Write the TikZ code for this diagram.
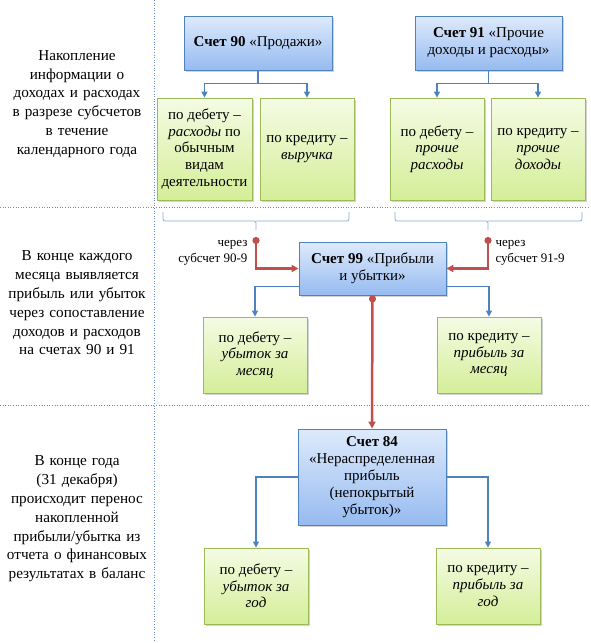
\documentclass[tikz,border=0pt]{standalone}
\usepackage{fontspec}
\setmainfont{Liberation Serif}
\usetikzlibrary{arrows.meta,shadows,calc}
\definecolor{bluebd}{RGB}{79,129,189}
\definecolor{bluetop}{RGB}{222,234,252}
\definecolor{bluebot}{RGB}{150,187,240}
\definecolor{greenbd}{RGB}{155,187,89}
\definecolor{greentop}{RGB}{245,251,228}
\definecolor{greenbot}{RGB}{212,238,152}
\definecolor{redln}{RGB}{192,80,77}
\definecolor{bracec}{RGB}{140,170,210}
\definecolor{sepc}{RGB}{100,140,200}
\tikzset{
  bluebox/.style={draw=bluebd, line width=0.8pt, top color=bluetop, bottom color=bluebot,
    drop shadow={shadow xshift=1.5pt, shadow yshift=-1.5pt, opacity=0.35},
    align=center, inner sep=2pt, font=\fontsize{15}{17}\selectfont},
  greenbox/.style={draw=greenbd, line width=0.8pt, top color=greentop, bottom color=greenbot,
    drop shadow={shadow xshift=1.5pt, shadow yshift=-1.5pt, opacity=0.35},
    align=center, inner sep=2pt, font=\fontsize{15}{16.6}\selectfont},
  sidetext/.style={align=center, text width=152pt, font=\fontsize{15.2}{18.8}\selectfont},
  viatext/.style={font=\fontsize{13}{16}\selectfont},
  bluearrow/.style={draw=bluebd, line width=1.2pt, -{Triangle[length=6pt,width=6pt]}},
  redarrow/.style={draw=redln, line width=2.5pt, {Circle[length=7pt]}-{Triangle[length=7pt,width=7pt]}},
  bracestyle/.style={draw=bracec, line width=0.8pt, rounded corners=2pt},
  sepline/.style={draw=sepc, line width=0.6pt, dotted},
}
\begin{document}
\begin{tikzpicture}[x=1pt,y=-1pt]
\useasboundingbox (0,0) rectangle (590,643);
% separators
\draw[sepline] (154,0) -- (154,640);
\draw[sepline] (0,207) -- (590,207);
\draw[sepline] (0,405) -- (590,405);
% side texts
\node[sidetext] (t1) at (77,104) {Накопление\\информации о\\доходах и расходах\\в разрезе субсчетов\\в течение\\календарного года};
\node[sidetext] (t2) at (77,303) {В конце каждого\\месяца выявляется\\прибыль или убыток\\через сопоставление\\доходов и расходов\\на счетах 90 и 91};
\node[sidetext] (t3) at (77,519) {В конце года\\(31 декабря)\\происходит перенос\\накопленной\\прибыли/убытка из\\отчета о финансовых\\результатах в баланс};
% top boxes
\node[bluebox, minimum width=148pt, minimum height=54pt] (b90) at (258,43) {\textbf{Счет 90} «Продажи»};
\node[bluebox, minimum width=147pt, minimum height=54pt] (b91) at (488.5,43) {\textbf{Счет 91} «Прочие\\доходы и расходы»};
\node[greenbox, minimum width=95pt, minimum height=102pt] (g1) at (204.5,149) {по дебету –\\\textit{расходы} по\\обычным\\видам\\деятельности};
\node[greenbox, minimum width=94pt, minimum height=102pt] (g2) at (307,149) {по кредиту –\\\textit{выручка}};
\node[greenbox, minimum width=94pt, minimum height=102pt] (g3) at (437,149) {по дебету –\\\textit{прочие}\\\textit{расходы}};
\node[greenbox, minimum width=94pt, minimum height=102pt] (g4) at (538,149) {по кредиту –\\\textit{прочие}\\\textit{доходы}};
\draw[bluearrow] (b90.south) -- ++(0,13) -| (g1.north);
\draw[bluearrow] (b90.south) -- ++(0,13) -| (g2.north);
\draw[bluearrow] (b91.south) -- ++(0,13) -| (g3.north);
\draw[bluearrow] (b91.south) -- ++(0,13) -| (g4.north);
% braces
\coordinate (br1) at (256,230);
\coordinate (br2) at (488,230);
\draw[bracestyle] (163,212) -- (163,221) -- (256,221) -- (br1);
\draw[bracestyle] (349,212) -- (349,221) -- (256,221);
\draw[bracestyle] (395,212) -- (395,221) -- (488,221) -- (br2);
\draw[bracestyle] (582,212) -- (582,221) -- (488,221);
% account 99
\node[bluebox, minimum width=147pt, minimum height=53pt] (b99) at (372.5,268.5) {\textbf{Счет 99} «Прибыли\\и убытки»};
\coordinate (r1) at (256,237);
\coordinate (r2) at (488,237);
\draw[redarrow] (r1) |- (b99.west);
\draw[redarrow] (r2) |- (b99.east);
\node[viatext, anchor=east, align=right] (v1) at (251,253) {через\\субсчет 90-9};
\node[viatext, anchor=west, align=left] (v2) at (492,253) {через\\субсчет 91-9};
\node[greenbox, minimum width=104pt, minimum height=76pt] (g5) at (255,355) {по дебету –\\\textit{убыток за}\\\textit{месяц}};
\node[greenbox, minimum width=104pt, minimum height=76pt] (g6) at (489,355) {по кредиту –\\\textit{прибыль за}\\\textit{месяц}};
\draw[bluearrow] ([yshift=9pt]b99.south west) -| (g5.north);
\draw[bluearrow] ([yshift=9pt]b99.south east) -| (g6.north);
% account 84
\node[bluebox, minimum width=148pt, minimum height=96pt] (b84) at (372,477) {\textbf{Счет 84}\\«Нераспределенная\\прибыль\\(непокрытый\\убыток)»};
\draw[redarrow] (b99.south) -- (b84.north);
\node[greenbox, minimum width=104pt, minimum height=76pt] (g7) at (256,586) {по дебету –\\\textit{убыток за}\\\textit{год}};
\node[greenbox, minimum width=104pt, minimum height=76pt] (g8) at (488,586) {по кредиту –\\\textit{прибыль за}\\\textit{год}};
\draw[bluearrow] (b84.west) -| (g7.north);
\draw[bluearrow] (b84.east) -| (g8.north);
\end{tikzpicture}
\end{document}
